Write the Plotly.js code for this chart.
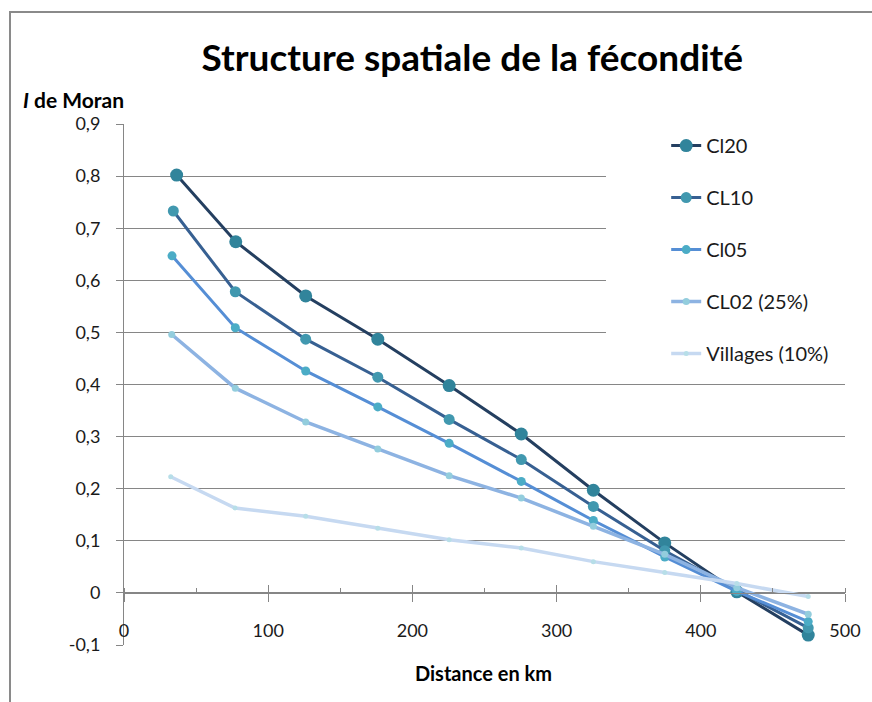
<!DOCTYPE html>
<html>
<head>
<meta charset="utf-8">
<script src="https://cdn.plot.ly/plotly-3.0.1.min.js"></script>
<style>
  html, body { margin: 0; padding: 0; background: #fff; }
  #wrap { position: relative; width: 872px; height: 702px; overflow: hidden; }
  #chart { position: absolute; left: 0; top: 0; width: 872px; height: 702px; }
  #frame { position: absolute; left: 9px; top: 11px; width: 900px; height: 800px;
           border-left: 2px solid #8a8a8a; border-top: 2px solid #8a8a8a; pointer-events: none; }
</style>
</head>
<body>
<div id="wrap">
  <div id="chart"></div>
  <div id="frame"></div>
</div>
<script>
// ---- Data ----
const seriesNames = ["Cl20", "CL10", "Cl05", "CL02 (25%)", "Villages (10%)"];

const xCl20     = [36.5, 77.5, 126, 176, 225.5, 275.5, 325.5, 375, 425, 474.5];
const xCL10     = [34.2, 77.2, 126, 176, 225.5, 275.5, 325.5, 375, 425, 474.5];
const xCl05     = [33.3, 77.2, 126, 176, 225.5, 275.5, 325.5, 375, 425, 474.5];
const xCL02     = [33.1, 77.2, 126, 176, 225.5, 275.5, 325.5, 375, 425, 474.5];
const xVillages = [32.4, 77.0, 126, 176, 225.5, 275.5, 325.5, 375, 425, 474.5];

const yCl20     = [0.802, 0.674, 0.570, 0.487, 0.398, 0.305, 0.197, 0.096, 0.002, -0.081];
const yCL10     = [0.733, 0.578, 0.487, 0.414, 0.333, 0.256, 0.166, 0.081, 0.005, -0.067];
const yCl05     = [0.647, 0.509, 0.426, 0.357, 0.287, 0.214, 0.139, 0.069, 0.003, -0.055];
const yCL02     = [0.496, 0.393, 0.328, 0.276, 0.225, 0.182, 0.128, 0.074, 0.010, -0.041];
const yVillages = [0.223, 0.163, 0.147, 0.124, 0.102, 0.086, 0.060, 0.039, 0.018, -0.007];

const xTickVals = [0, 100, 200, 300, 400, 500];
const xTickText = ["0", "100", "200", "300", "400", "500"];
const yTickVals = [-0.1, 0, 0.1, 0.2, 0.3, 0.4, 0.5, 0.6, 0.7, 0.8, 0.9];
const yTickText = ["-0,1", "0", "0,1", "0,2", "0,3", "0,4", "0,5", "0,6", "0,7", "0,8", "0,9"];

// ---- Styles ----
const FONT = "Lato, 'Open Sans', sans-serif";
const GRID = "#868686";
const styles = [
  { line: "#243F60", marker: "#31849B", lw: 3,   ms: 13 },
  { line: "#376092", marker: "#4198AF", lw: 3,   ms: 11 },
  { line: "#558ED5", marker: "#4BACC6", lw: 3,   ms: 9 },
  { line: "#8DB3E2", marker: "#93CDDD", lw: 3.5, ms: 7 },
  { line: "#C6D9F1", marker: "#B7DEE8", lw: 3.5, ms: 5 }
];
const xs = [xCl20, xCL10, xCl05, xCL02, xVillages];
const ys = [yCl20, yCL10, yCl05, yCL02, yVillages];

const traces = seriesNames.map((name, i) => ({
  type: "scatter",
  mode: "lines+markers",
  name: name,
  x: xs[i],
  y: ys[i],
  legendgroup: "g" + i,
  line: { color: styles[i].line, width: styles[i].lw },
  marker: { color: styles[i].marker, size: styles[i].ms },
  hoverinfo: "x+y+name"
}));
// helper (empty) trace so the overlay axis carrying the upper tick halves is drawn
traces.push({ type: "scatter", x: [], y: [], xaxis: "x2", yaxis: "y", showlegend: false, hoverinfo: "skip" });

const layout = {
  width: 872, height: 702,
  margin: { l: 124, r: 27, t: 124, b: 57, pad: 0 },
  paper_bgcolor: "#ffffff",
  plot_bgcolor: "#ffffff",
  font: { family: FONT, color: "#1a1a1a", size: 17 },
  showlegend: true,
  title: {
    text: "<b>Structure spatiale de la fécondité</b>",
    font: { family: FONT, size: 37, color: "#000" },
    x: 0.483, xanchor: "center", xref: "paper",
    y: 0.918, yanchor: "middle", yref: "container"
  },
  xaxis: {
    range: [0, 500],
    anchor: "free", position: 0.1,
    showgrid: false, zeroline: false,
    showline: true, linecolor: GRID, linewidth: 1,
    tickmode: "array", tickvals: xTickVals, ticktext: xTickText,
    ticks: "outside", ticklen: 8, tickcolor: GRID, tickwidth: 1,
    ticklabelstandoff: 13,
    minor: { tickmode: "linear", tick0: 0, dtick: 50, ticks: "inside", ticklen: 5, tickcolor: GRID, showgrid: false },
    tickfont: { family: FONT, size: 18, color: "#1a1a1a" },
    fixedrange: true
  },
  xaxis2: {
    range: [0, 500],
    overlaying: "x", anchor: "free", position: 0.1,
    showgrid: false, zeroline: false, showline: false,
    tickmode: "array", tickvals: xTickVals,
    ticks: "inside", ticklen: 8, tickcolor: GRID, tickwidth: 1,
    showticklabels: false, fixedrange: true
  },
  yaxis: {
    range: [-0.1, 0.9],
    showgrid: true, gridcolor: GRID, gridwidth: 1,
    zeroline: false,
    showline: true, linecolor: GRID, linewidth: 1,
    tickmode: "array", tickvals: yTickVals, ticktext: yTickText,
    ticks: "outside", ticklen: 7, tickcolor: GRID, tickwidth: 1,
    ticklabelstandoff: 12,
    tickfont: { family: FONT, size: 18, color: "#1a1a1a" },
    fixedrange: true
  },
  legend: {
    x: 0.752, xanchor: "left", xref: "paper",
    y: 0.996, yanchor: "top", yref: "paper",
    bgcolor: "rgba(0,0,0,0)",
    borderwidth: 0,
    tracegroupgap: 23,
    font: { family: FONT, size: 20, color: "#1a1a1a" },
    itemsizing: "trace"
  },
  shapes: [
    { type: "rect", xref: "paper", yref: "paper", x0: 0.6685, x1: 1.002, y0: 0.505, y1: 1.01,
      fillcolor: "#ffffff", line: { width: 0 }, layer: "above" }
  ],
  annotations: [
    { text: "<b><i>I</i> de Moran</b>", xref: "paper", yref: "paper",
      x: -0.143, y: 1.047, xanchor: "left", yanchor: "middle", showarrow: false,
      font: { family: FONT, size: 21, color: "#000" } },
    { text: "<b>Distance en km</b>", xref: "paper", yref: "paper",
      x: 0.499, y: -0.053, xanchor: "center", yanchor: "middle", showarrow: false,
      font: { family: FONT, size: 20, color: "#000" } }
  ]
};

Plotly.newPlot("chart", traces, layout, { displayModeBar: false, staticPlot: true });
</script>
</body>
</html>
